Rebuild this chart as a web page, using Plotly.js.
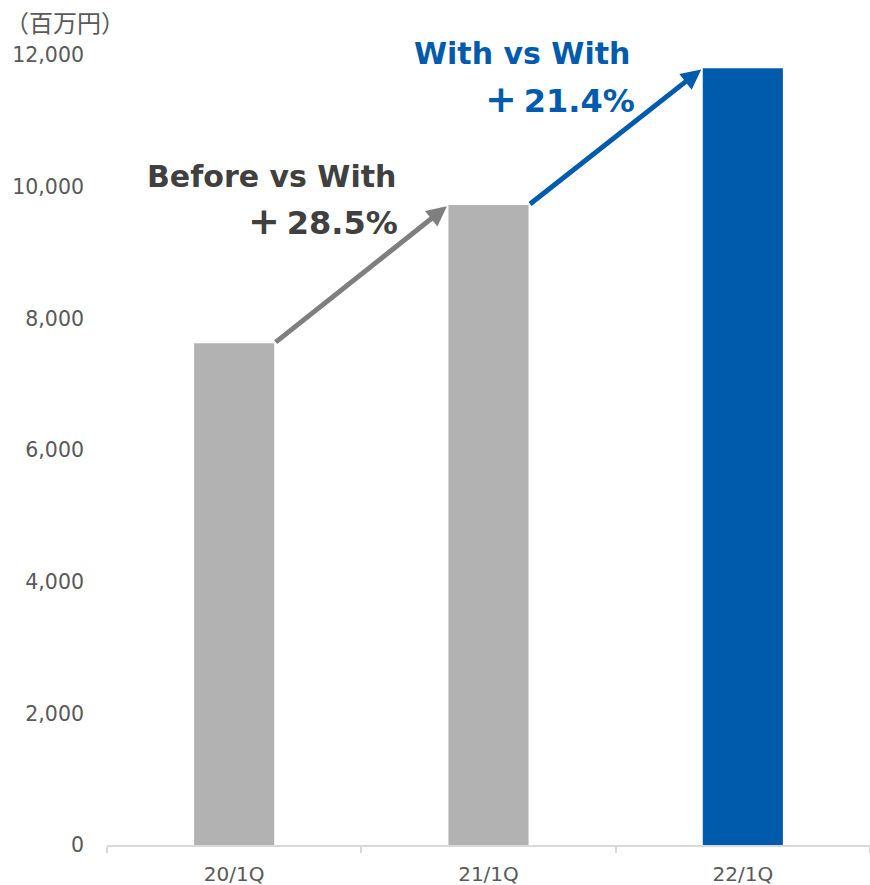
<!DOCTYPE html>
<html><head><meta charset="utf-8">
<script src="https://cdn.plot.ly/plotly-3.0.1.min.js"></script>
<style>html,body{margin:0;padding:0;background:#fff}#c{width:870px;height:885px}</style>
</head><body><div id="c"></div>
<script>
const categories = ["20/1Q", "21/1Q", "22/1Q"];
const values = [7620, 9720, 11800];
const barColors = ["#b2b2b2", "#b2b2b2", "#005bac"];
const yTicks = [0, 2000, 4000, 6000, 8000, 10000, 12000];
const unitLabel = "（百万円）";
const label1 = ["Before vs With", "＋28.5%"];
const label2 = ["With vs With", "＋21.4%"];

const barWidth = 0.315;
const font = "DejaVu Sans, Verdana, Noto Sans CJK JP, sans-serif";
const plusFix = s => s.replace("＋", "<span style='font-size:38px'>+</span><span style='font-size:20px'> </span>");

const trace = {
  type: "bar", x: categories, y: values,
  marker: {color: barColors}, width: barWidth, hoverinfo: "none"
};

const annotations = [
  {xref: "paper", yref: "paper", x: 0, y: 1, xanchor: "left", yanchor: "middle",
   xshift: -104, yshift: 34, text: unitLabel, showarrow: false,
   font: {family: "Noto Sans CJK JP, sans-serif", size: 24, color: "#595959"}},
  {xref: "x", yref: "y", axref: "x", ayref: "y",
   x: 1 - barWidth / 2, y: values[1], ax: 0 + barWidth / 2, ay: values[0],
   showarrow: true, arrowhead: 2, arrowsize: 0.8, arrowwidth: 5, arrowcolor: "#7f7f7f",
   standoff: 2, text: ""},
  {xref: "x", yref: "y", axref: "x", ayref: "y",
   x: 2 - barWidth / 2, y: values[2], ax: 1 + barWidth / 2, ay: values[1],
   showarrow: true, arrowhead: 2, arrowsize: 0.8, arrowwidth: 5, arrowcolor: "#005bac",
   standoff: 2, text: ""},
  {xref: "paper", yref: "paper", x: (398 - 107) / 763, y: (845 - 176) / 790, xanchor: "right", yanchor: "middle",
   text: "<b>" + label1[0] + "</b>", showarrow: false, font: {family: font, size: 30, color: "#404040"}},
  {xref: "paper", yref: "paper", x: (400 - 107) / 763, y: (845 - 221) / 790, xanchor: "right", yanchor: "middle",
   text: "<b>" + plusFix(label1[1]) + "</b>", showarrow: false, font: {family: font, size: 32, color: "#404040"}},
  {xref: "paper", yref: "paper", x: (632 - 107) / 763, y: (845 - 54) / 790, xanchor: "right", yanchor: "middle",
   text: "<b>" + label2[0] + "</b>", showarrow: false, font: {family: font, size: 30, color: "#005bac"}},
  {xref: "paper", yref: "paper", x: (637 - 107) / 763, y: (845 - 99) / 790, xanchor: "right", yanchor: "middle",
   text: "<b>" + plusFix(label2[1]) + "</b>", showarrow: false, font: {family: font, size: 32, color: "#005bac"}}
];

const layout = {
  width: 870, height: 885,
  margin: {l: 107, r: 0, t: 55, b: 40},
  paper_bgcolor: "#fff", plot_bgcolor: "#fff",
  showlegend: false,
  font: {family: font, color: "#595959", size: 20},
  xaxis: {
    type: "category", range: [-0.5, 2.5],
    showline: true, linecolor: "#d9d9d9", linewidth: 2,
    ticks: "outside", tickson: "boundaries", ticklen: 6, tickcolor: "#d9d9d9", tickwidth: 2,
    tickfont: {size: 20, color: "#595959"}, showgrid: false, zeroline: false,
    ticklabelstandoff: 10
  },
  yaxis: {
    range: [0, 12000], tickvals: yTicks, tickformat: ",",
    showgrid: false, zeroline: false, showline: false, ticks: "",
    tickfont: {size: 20.5, color: "#595959"}, ticklabelstandoff: 22
  },
  annotations: annotations
};

Plotly.newPlot("c", [trace], layout, {staticPlot: true, displayModeBar: false});
</script></body></html>
